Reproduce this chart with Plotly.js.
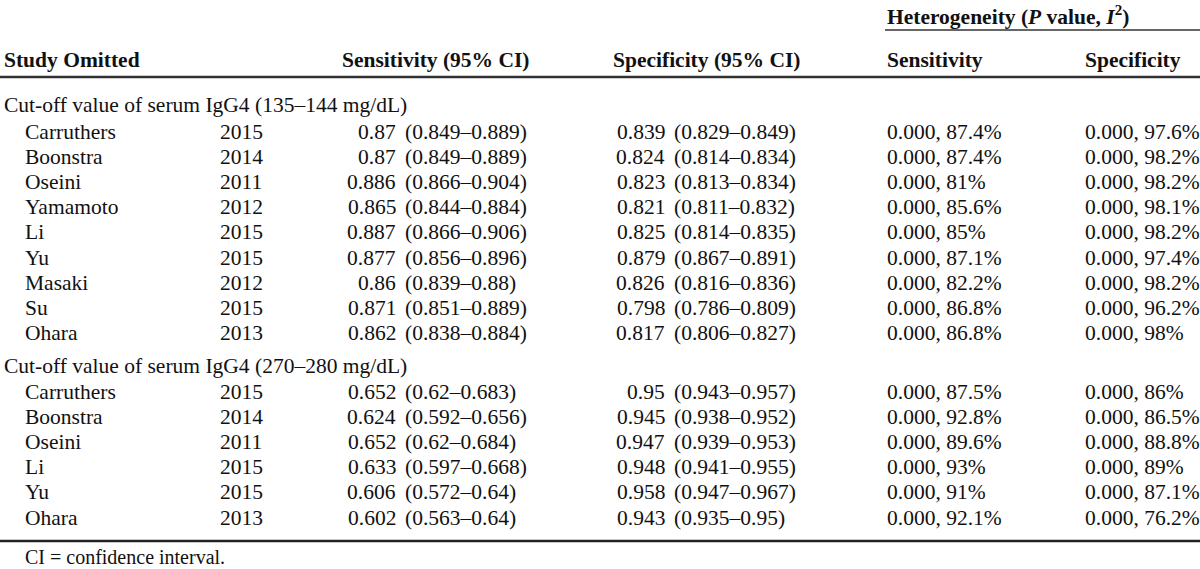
<!DOCTYPE html>
<html>
<head>
<meta charset="utf-8">
<script src="https://cdn.plot.ly/plotly-3.0.1.min.js"></script>
<style>html,body{margin:0;padding:0;background:#fff;}#chart{width:1200px;height:569px;}</style>
</head>
<body>
<div id="chart"></div>
<script>
// ---- Data ----
const colHeaders = ["Study Omitted", "Sensitivity (95% CI)", "Specificity (95% CI)", "Sensitivity", "Specificity"];
const groupHeader = "Heterogeneity (<i>P</i> value, <i>I</i><sup>2</sup>)";
const sectionLabels = ["Cut-off value of serum IgG4 (135\u2013144 mg/dL)", "Cut-off value of serum IgG4 (270\u2013280 mg/dL)"];
const footnote = "CI = confidence interval.";

const studies1 = ["Carruthers", "Boonstra", "Oseini", "Yamamoto", "Li", "Yu", "Masaki", "Su", "Ohara"];
const years1 = [2015, 2014, 2011, 2012, 2015, 2015, 2012, 2015, 2013];
const sens1 = [0.87, 0.87, 0.886, 0.865, 0.887, 0.877, 0.86, 0.871, 0.862];
const sensLo1 = [0.849, 0.849, 0.866, 0.844, 0.866, 0.856, 0.839, 0.851, 0.838];
const sensHi1 = [0.889, 0.889, 0.904, 0.884, 0.906, 0.896, 0.88, 0.889, 0.884];
const spec1 = [0.839, 0.824, 0.823, 0.821, 0.825, 0.879, 0.826, 0.798, 0.817];
const specLo1 = [0.829, 0.814, 0.813, 0.811, 0.814, 0.867, 0.816, 0.786, 0.806];
const specHi1 = [0.849, 0.834, 0.834, 0.832, 0.835, 0.891, 0.836, 0.809, 0.827];
const hetSensP1 = [0, 0, 0, 0, 0, 0, 0, 0, 0];
const hetSensI1 = [87.4, 87.4, 81, 85.6, 85, 87.1, 82.2, 86.8, 86.8];
const hetSpecP1 = [0, 0, 0, 0, 0, 0, 0, 0, 0];
const hetSpecI1 = [97.6, 98.2, 98.2, 98.1, 98.2, 97.4, 98.2, 96.2, 98];

const studies2 = ["Carruthers", "Boonstra", "Oseini", "Li", "Yu", "Ohara"];
const years2 = [2015, 2014, 2011, 2015, 2015, 2013];
const sens2 = [0.652, 0.624, 0.652, 0.633, 0.606, 0.602];
const sensLo2 = [0.62, 0.592, 0.62, 0.597, 0.572, 0.563];
const sensHi2 = [0.683, 0.656, 0.684, 0.668, 0.64, 0.64];
const spec2 = [0.95, 0.945, 0.947, 0.948, 0.958, 0.943];
const specLo2 = [0.943, 0.938, 0.939, 0.941, 0.947, 0.935];
const specHi2 = [0.957, 0.952, 0.953, 0.955, 0.967, 0.95];
const hetSensP2 = [0, 0, 0, 0, 0, 0];
const hetSensI2 = [87.5, 92.8, 89.6, 93, 91, 92.1];
const hetSpecP2 = [0, 0, 0, 0, 0, 0];
const hetSpecI2 = [86, 86.5, 88.8, 89, 87.1, 76.2];

// ---- Layout geometry (pixel-like coordinates on hidden axes) ----
const FONT = "Liberation Serif, Times New Roman, serif";
const FS = 21.5;
const COLOR = "#111";
const X = {study: 2, name: 23, year: 218, sensParen: 403, specParen: 672, hetSens: 885, hetSpec: 1083, sensHdrR: 532, specHdrR: 803};
const Y = {group: 15, groupLine: 30, header: 60, headerLine: 77, sec1: 105, rows1Start: 132, sec2: 366, rows2Start: 392, rowStep: 25.1, bottomLine: 541, foot: 557};

const ann = [];
function txt(x, y, text, anchor, bold, size) {
  ann.push({
    x: x, y: y, xref: "x", yref: "y", text: bold ? "<b>" + text + "</b>" : text,
    showarrow: false, xanchor: anchor, yanchor: "middle",
    font: {family: FONT, size: size || FS, color: COLOR}
  });
}

// headers
txt(X.hetSens, Y.group, groupHeader, "left", true);
txt(X.study, Y.header, colHeaders[0], "left", true);
txt(X.sensHdrR, Y.header, colHeaders[1], "right", true);
txt(X.specHdrR, Y.header, colHeaders[2], "right", true);
txt(X.hetSens, Y.header, colHeaders[3], "left", true);
txt(X.hetSpec, Y.header, colHeaders[4], "left", true);

function section(label, ySec, yStart, studies, years, sens, sLo, sHi, spec, pLo, pHi, hsP, hsI, hpP, hpI) {
  txt(X.study, ySec, label, "left", false);
  studies.forEach(function (s, i) {
    const y = yStart + i * Y.rowStep;
    txt(X.name, y, s, "left");
    txt(X.year, y, String(years[i]), "left");
    txt(X.sensParen - 5, y, String(sens[i]), "right");
    txt(X.sensParen, y, "(" + sLo[i] + "\u2013" + sHi[i] + ")", "left");
    txt(X.specParen - 5, y, String(spec[i]), "right");
    txt(X.specParen, y, "(" + pLo[i] + "\u2013" + pHi[i] + ")", "left");
    txt(X.hetSens, y, hsP[i].toFixed(3) + ", " + hsI[i] + "%", "left");
    txt(X.hetSpec, y, hpP[i].toFixed(3) + ", " + hpI[i] + "%", "left");
  });
}
section(sectionLabels[0], Y.sec1, Y.rows1Start, studies1, years1, sens1, sensLo1, sensHi1, spec1, specLo1, specHi1, hetSensP1, hetSensI1, hetSpecP1, hetSpecI1);
section(sectionLabels[1], Y.sec2, Y.rows2Start, studies2, years2, sens2, sensLo2, sensHi2, spec2, specLo2, specHi2, hetSensP2, hetSensI2, hetSpecP2, hetSpecI2);
txt(X.name, Y.foot, footnote, "left", false, 20);

const shapes = [
  {type: "line", xref: "x", yref: "y", x0: X.hetSens, x1: 1200, y0: Y.groupLine, y1: Y.groupLine, line: {color: "#333", width: 1.5}},
  {type: "line", xref: "x", yref: "y", x0: 0, x1: 1200, y0: Y.headerLine, y1: Y.headerLine, line: {color: "#333", width: 2.5}},
  {type: "line", xref: "x", yref: "y", x0: 0, x1: 1200, y0: Y.bottomLine, y1: Y.bottomLine, line: {color: "#222", width: 2.5}}
];

const layout = {
  width: 1200, height: 569,
  margin: {l: 0, r: 0, t: 0, b: 0, pad: 0},
  paper_bgcolor: "#fff", plot_bgcolor: "#fff",
  showlegend: false,
  xaxis: {range: [0, 1200], visible: false, fixedrange: true},
  yaxis: {range: [569, 0], visible: false, fixedrange: true},
  annotations: ann,
  shapes: shapes
};

Plotly.newPlot("chart", [{x: [], y: [], type: "scatter", mode: "markers", hoverinfo: "skip"}], layout, {staticPlot: true, displayModeBar: false});
</script>
</body>
</html>
